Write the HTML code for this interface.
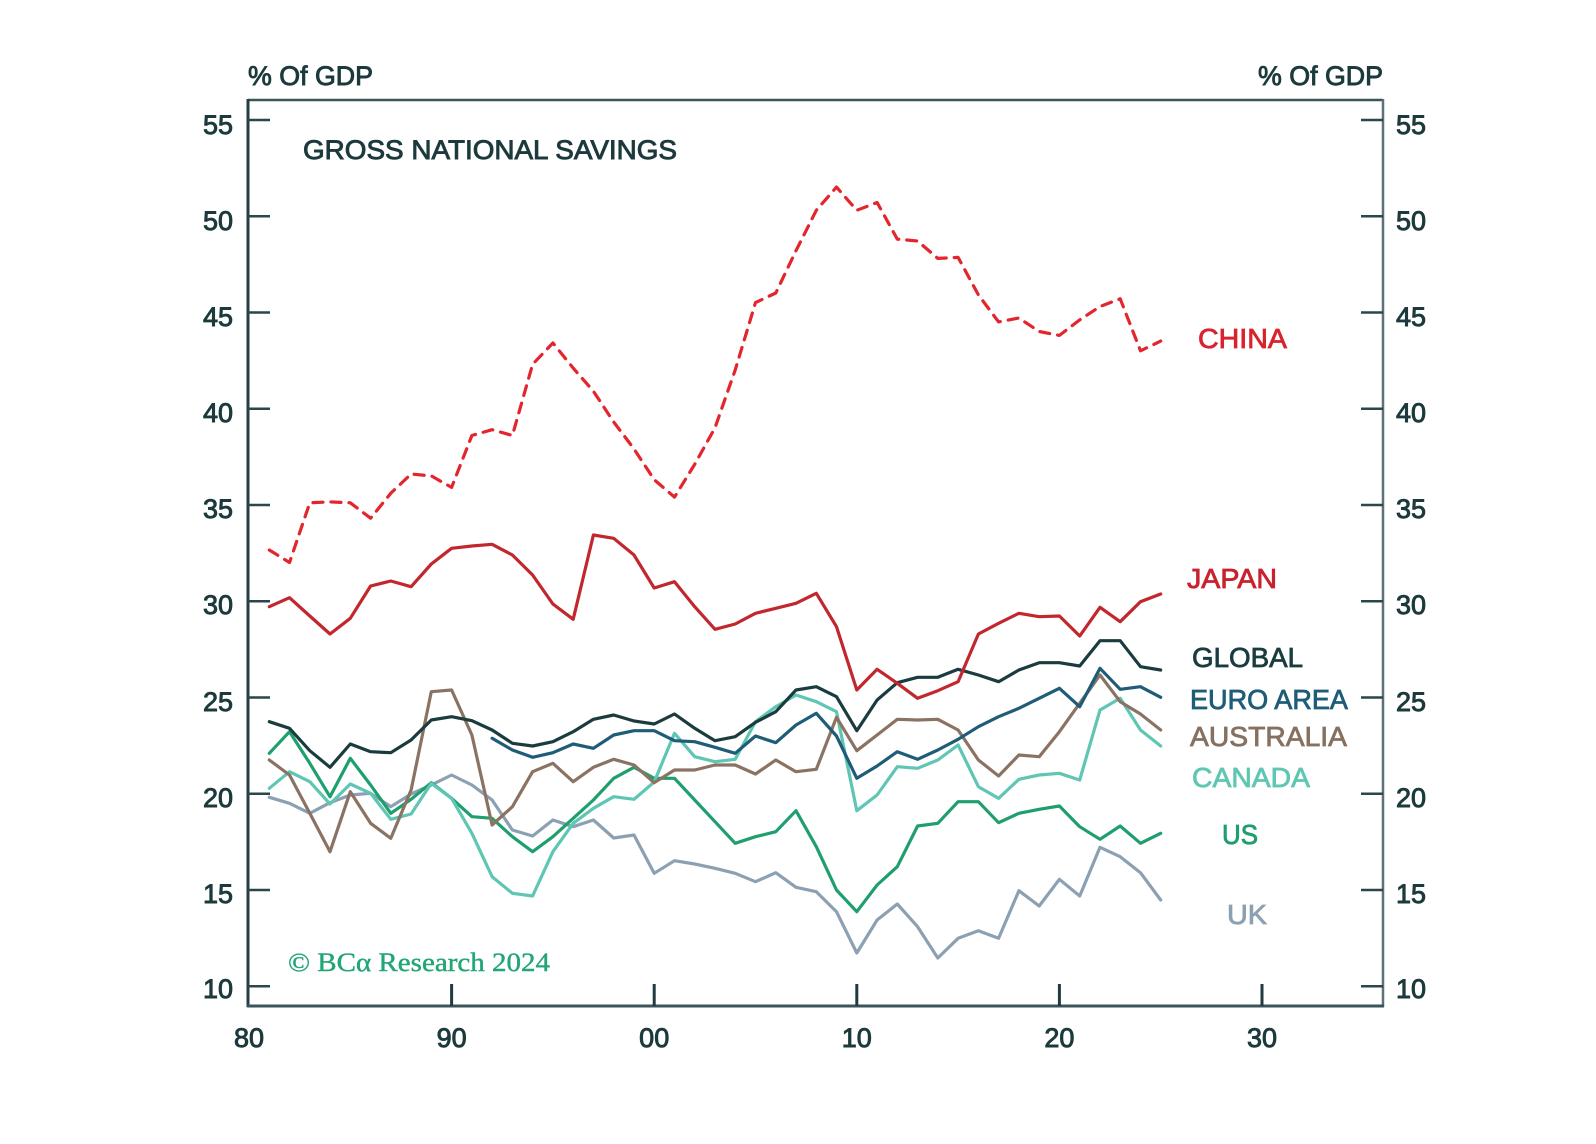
<!DOCTYPE html>
<html>
<head>
<meta charset="utf-8">
<style>
  html, body { margin: 0; padding: 0; background: #ffffff; }
  svg { display: block; }
  text { font-family: "Liberation Sans", "DejaVu Sans", sans-serif; }
  .tick { font-size: 27px; fill: #1c3a3d; stroke: #1c3a3d; stroke-width: 0.9px; }
  .lbl { font-size: 28px; stroke-width: 0.8px; }
  .ser { fill: none; stroke-width: 3.2; stroke-linejoin: round; stroke-linecap: round; }
</style>
</head>
<body>
<svg width="1596" height="1144" viewBox="0 0 1596 1144" xmlns="http://www.w3.org/2000/svg">
  <rect x="0" y="0" width="1596" height="1144" fill="#ffffff"/>

  <!-- axis titles -->
  <text class="tick" x="248" y="85" textLength="125" lengthAdjust="spacingAndGlyphs">% Of GDP</text>
  <text class="tick" x="1383" y="85" text-anchor="end" textLength="125" lengthAdjust="spacingAndGlyphs">% Of GDP</text>

  <!-- chart title -->
  <text class="tick" x="303" y="159" font-size="28" textLength="374" lengthAdjust="spacingAndGlyphs">GROSS NATIONAL SAVINGS</text>

  <!-- frame -->
  <line x1="248" y1="100" x2="1383" y2="100" stroke="#3a565b" stroke-width="2.5"/>
  <line x1="248" y1="99" x2="248" y2="1007" stroke="#243f44" stroke-width="3"/>
  <line x1="1383" y1="99" x2="1383" y2="1007" stroke="#5b7278" stroke-width="2.5"/>
  <line x1="247" y1="1006" x2="1384" y2="1006" stroke="#3a565b" stroke-width="3"/>

  <!-- y ticks left & right -->
  <g stroke="#2c474c" stroke-width="2.5">
    <line x1="248" y1="120" x2="270" y2="120"/><line x1="1361" y1="120" x2="1383" y2="120"/>
    <line x1="248" y1="216.3" x2="270" y2="216.3"/><line x1="1361" y1="216.3" x2="1383" y2="216.3"/>
    <line x1="248" y1="312.5" x2="270" y2="312.5"/><line x1="1361" y1="312.5" x2="1383" y2="312.5"/>
    <line x1="248" y1="408.8" x2="270" y2="408.8"/><line x1="1361" y1="408.8" x2="1383" y2="408.8"/>
    <line x1="248" y1="505" x2="270" y2="505"/><line x1="1361" y1="505" x2="1383" y2="505"/>
    <line x1="248" y1="601.3" x2="270" y2="601.3"/><line x1="1361" y1="601.3" x2="1383" y2="601.3"/>
    <line x1="248" y1="697.5" x2="270" y2="697.5"/><line x1="1361" y1="697.5" x2="1383" y2="697.5"/>
    <line x1="248" y1="793.8" x2="270" y2="793.8"/><line x1="1361" y1="793.8" x2="1383" y2="793.8"/>
    <line x1="248" y1="890" x2="270" y2="890"/><line x1="1361" y1="890" x2="1383" y2="890"/>
    <line x1="248" y1="986.3" x2="270" y2="986.3"/><line x1="1361" y1="986.3" x2="1383" y2="986.3"/>
  </g>
  <!-- x ticks -->
  <g stroke="#1f3b40" stroke-width="3">
    <line x1="451.6" y1="984" x2="451.6" y2="1006"/>
    <line x1="654.2" y1="984" x2="654.2" y2="1006"/>
    <line x1="856.8" y1="984" x2="856.8" y2="1006"/>
    <line x1="1059.4" y1="984" x2="1059.4" y2="1006"/>
    <line x1="1262" y1="984" x2="1262" y2="1006"/>
  </g>

  <!-- left y labels -->
  <g class="tick" text-anchor="end">
    <text x="233" y="134">55</text>
    <text x="233" y="230">50</text>
    <text x="233" y="326">45</text>
    <text x="233" y="422">40</text>
    <text x="233" y="518">35</text>
    <text x="233" y="614">30</text>
    <text x="233" y="711">25</text>
    <text x="233" y="807">20</text>
    <text x="233" y="903">15</text>
    <text x="233" y="998">10</text>
  </g>
  <!-- right y labels -->
  <g class="tick">
    <text x="1396" y="134">55</text>
    <text x="1396" y="230">50</text>
    <text x="1396" y="326">45</text>
    <text x="1396" y="422">40</text>
    <text x="1396" y="518">35</text>
    <text x="1396" y="614">30</text>
    <text x="1396" y="711">25</text>
    <text x="1396" y="807">20</text>
    <text x="1396" y="903">15</text>
    <text x="1396" y="998">10</text>
  </g>
  <!-- x labels -->
  <g class="tick" text-anchor="middle">
    <text x="249" y="1047">80</text>
    <text x="451.6" y="1047">90</text>
    <text x="654.2" y="1047">00</text>
    <text x="856.8" y="1047">10</text>
    <text x="1059.4" y="1047">20</text>
    <text x="1262" y="1047">30</text>
  </g>

  <!-- copyright -->
  <text x="288" y="971" font-size="26" fill="#22a676" stroke="#22a676" stroke-width="0.4" textLength="262" lengthAdjust="spacingAndGlyphs" style="font-family:'Liberation Serif','DejaVu Serif',serif">© BCα Research 2024</text>

  <!-- UK -->
  <polyline class="ser" stroke="#8ba1b3" points="269.3,797.3 289.5,803.3 309.8,813.3 330,802.7 350.3,795 370.6,793.3 390.8,806.7 411.1,794 431.3,785 451.6,775 471.9,785 492.1,800 512.4,830 532.6,836 552.9,820 573.2,826.7 593.4,820 613.7,838 634,835 654.2,873.3 674.5,860.7 694.7,864 715,868.3 735.2,873.3 755.5,881.7 775.8,872.7 796,887.3 816.3,891.7 836.5,911.7 856.8,953 877.1,920 897.3,904 917.6,926.7 937.8,958 958.1,938.3 978.4,930.7 998.6,938.3 1018.9,890.7 1039.2,906 1059.4,879.3 1079.7,896 1100,847.3 1120.2,856.7 1140.5,872.7 1160.7,900"/>

  <!-- US -->
  <polyline class="ser" stroke="#1f9e6e" points="269.3,753.3 289.5,731.7 309.8,763.3 330,796.7 350.3,758.3 370.6,785 390.8,813.3 411.1,799.3 431.3,782.7 451.6,798.3 471.9,816.7 492.1,818.3 512.4,836.7 532.6,851.7 552.9,836.7 573.2,818.3 593.4,800 613.7,778.3 634,767.3 654.2,778.3 674.5,778.3 694.7,800 715,821.7 735.2,843.3 755.5,836.7 775.8,831.7 796,810.7 816.3,846.7 836.5,890 856.8,911.7 877.1,885 897.3,866.7 917.6,826 937.8,823.3 958.1,801.7 978.4,801.7 998.6,822.7 1018.9,813.3 1039.2,809.3 1059.4,806 1079.7,826.7 1100,839.3 1120.2,826 1140.5,843.3 1160.7,833.3"/>

  <!-- Canada -->
  <polyline class="ser" stroke="#5fc6b3" points="269.3,788.3 289.5,771.7 309.8,781.7 330,804 350.3,784 370.6,793.3 390.8,819.3 411.1,814 431.3,783.3 451.6,798.3 471.9,833.3 492.1,876.7 512.4,893.3 532.6,896 552.9,851.7 573.2,823.3 593.4,808.3 613.7,796.7 634,799.3 654.2,782 674.5,733.3 694.7,756.7 715,761.7 735.2,759.3 755.5,721.7 775.8,706.7 796,695 816.3,701.7 836.5,711.7 856.8,810.7 877.1,795 897.3,766.7 917.6,768.3 937.8,760 958.1,745 978.4,786.7 998.6,798.3 1018.9,779.3 1039.2,775 1059.4,773.3 1079.7,780 1100,710 1120.2,698.3 1140.5,730 1160.7,746"/>

  <!-- Australia -->
  <polyline class="ser" stroke="#8b7363" points="269.3,760 289.5,775 309.8,813.3 330,851.7 350.3,791.7 370.6,823.3 390.8,838.3 411.1,790 431.3,691.7 451.6,690 471.9,735 492.1,825 512.4,806.7 532.6,771.7 552.9,763.3 573.2,781.7 593.4,767.3 613.7,759.3 634,765 654.2,782.7 674.5,770 694.7,770 715,765 735.2,765 755.5,774 775.8,760 796,771.7 816.3,769.3 836.5,717.3 856.8,750.7 877.1,735 897.3,719.3 917.6,720 937.8,719.3 958.1,730 978.4,760 998.6,776 1018.9,755 1039.2,756.7 1059.4,731.7 1079.7,703.3 1100,675 1120.2,701.7 1140.5,714 1160.7,730"/>

  <!-- Euro area -->
  <polyline class="ser" stroke="#1f5c78" points="492.1,738.3 512.4,750 532.6,757.3 552.9,752.7 573.2,744 593.4,748.3 613.7,735 634,730.7 654.2,730.7 674.5,740.7 694.7,741.7 715,747.3 735.2,753.3 755.5,736 775.8,742.7 796,725 816.3,713.3 836.5,736 856.8,778.3 877.1,766 897.3,751.7 917.6,759.3 937.8,750 958.1,739.3 978.4,726.7 998.6,716.7 1018.9,708.3 1039.2,698.3 1059.4,688.3 1079.7,706.7 1100,668.3 1120.2,689.3 1140.5,686.7 1160.7,697.3"/>

  <!-- Global -->
  <polyline class="ser" stroke="#1a3c3e" points="269.3,721.7 289.5,728.3 309.8,750.7 330,767.3 350.3,744 370.6,751.7 390.8,752.7 411.1,740 431.3,720 451.6,716.7 471.9,720.7 492.1,730 512.4,743.3 532.6,746 552.9,741.7 573.2,731.7 593.4,719.3 613.7,715 634,721 654.2,724 674.5,714 694.7,728.3 715,740.7 735.2,736.7 755.5,722.3 775.8,711.7 796,690 816.3,686.7 836.5,696.7 856.8,730.7 877.1,700 897.3,682.7 917.6,677.3 937.8,677.3 958.1,669.3 978.4,675 998.6,681.7 1018.9,670 1039.2,662.7 1059.4,662.7 1079.7,666 1100,640.7 1120.2,640.7 1140.5,666.7 1160.7,670"/>

  <!-- Japan -->
  <polyline class="ser" stroke="#c1272d" points="269.3,606.7 289.5,597.7 309.8,616 330,634 350.3,618.3 370.6,586 390.8,581 411.1,586.7 431.3,564 451.6,548.3 471.9,546 492.1,544.3 512.4,555 532.6,575 552.9,604 573.2,619.3 593.4,535 613.7,538.3 634,555 654.2,588 674.5,581.7 694.7,606.7 715,629.3 735.2,624 755.5,613.3 775.8,608.3 796,603.3 816.3,593.3 836.5,626.7 856.8,690 877.1,669.3 897.3,683.3 917.6,698.3 937.8,690.7 958.1,681.7 978.4,634 998.6,623.3 1018.9,613.3 1039.2,616.7 1059.4,616 1079.7,636 1100,607.3 1120.2,621.7 1140.5,601.7 1160.7,594"/>

  <!-- China (dashed) -->
  <polyline class="ser" stroke="#e3262d" stroke-width="3.6" stroke-dasharray="10 8" stroke-linecap="butt" points="269.3,550 289.5,562.5 309.8,502.8 330,501.9 350.3,502.8 370.6,518.2 390.8,493.2 411.1,474 431.3,475.9 451.6,487.4 471.9,435.5 492.1,429.7 512.4,435.5 532.6,364.3 552.9,343 573.2,368.1 593.4,391.2 613.7,422 634,448.9 654.2,479.7 674.5,497.1 694.7,464.3 715,427.8 735.2,370 755.5,302.6 775.8,293 796,250.7 816.3,210.3 836.5,187.1 856.8,210.3 877.1,202.5 897.3,239.1 917.6,241 937.8,258.4 958.1,257.4 978.4,294.9 998.6,321.9 1018.9,318 1039.2,331.5 1059.4,335.4 1079.7,319.9 1100,306.5 1120.2,298.8 1140.5,350.8 1160.7,341.1"/>

  <!-- series labels -->
  <text class="lbl" x="1198" y="348" fill="#d8232f" stroke="#d8232f" textLength="89" lengthAdjust="spacingAndGlyphs">CHINA</text>
  <text class="lbl" x="1187" y="588" fill="#c8222e" stroke="#c8222e" textLength="90" lengthAdjust="spacingAndGlyphs">JAPAN</text>
  <text class="lbl" x="1192" y="667" fill="#1a3c3e" stroke="#1a3c3e" textLength="111" lengthAdjust="spacingAndGlyphs">GLOBAL</text>
  <text class="lbl" x="1190" y="709" fill="#1f5c78" stroke="#1f5c78" textLength="158" lengthAdjust="spacingAndGlyphs">EURO AREA</text>
  <text class="lbl" x="1190" y="746" fill="#86705f" stroke="#86705f" textLength="157" lengthAdjust="spacingAndGlyphs">AUSTRALIA</text>
  <text class="lbl" x="1192" y="787" fill="#5fc6b3" stroke="#5fc6b3" textLength="118" lengthAdjust="spacingAndGlyphs">CANADA</text>
  <text class="lbl" x="1222" y="844" fill="#1f9e6e" stroke="#1f9e6e" textLength="36" lengthAdjust="spacingAndGlyphs">US</text>
  <text class="lbl" x="1227" y="924" fill="#8ba1b3" stroke="#8ba1b3" textLength="40" lengthAdjust="spacingAndGlyphs">UK</text>
</svg>
</body>
</html>
